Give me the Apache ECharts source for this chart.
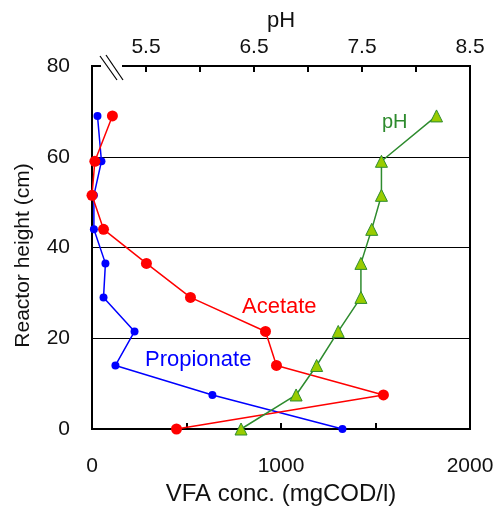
<!DOCTYPE html>
<html>
<head>
<meta charset="utf-8">
<script src="https://cdn.jsdelivr.net/npm/echarts@6/dist/echarts.min.js"></script>
<style>
    html, body { margin: 0; padding: 0; background: #fff; }
    #chart { width: 496px; height: 506px; }
</style>
</head>
<body>
<div id="chart"></div>
<script>
    // reactor heights (cm) of the sampling ports
    var heights = [0, 7.5, 14, 21.5, 29, 36.5, 44, 51.5, 59, 69];
    // VFA conc. (mgCOD/l)
    var acetate = [447, 1542, 976, 918, 521, 288, 61, 0, 15, 108];
    var propionate = [1325, 637, 124, 225, 61, 71, 10, 10, 50, 29];
    // pH (top axis)
    var ph = [6.38, 6.89, 7.08, 7.28, 7.49, 7.49, 7.59, 7.68, 7.68, 8.19];

    var vfaLabels = [0, 1000, 2000];
    var phLabels = [5.5, 6.5, 7.5, 8.5];

    var font = 'Liberation Sans, Arial, sans-serif';

    function pairs(xs, ys) {
        var out = [];
        for (var i = 0; i < xs.length; i++) {
            out.push([xs[i], ys[i]]);
        }
        return out;
    }

    var chart = echarts.init(document.getElementById('chart'), null, {renderer: 'canvas'});

    var option = {
        animation: false,
        backgroundColor: '#fff',
        grid: {
            left: 92,
            right: 26,
            top: 66,
            bottom: 77,
            outerBoundsMode: 'none',
            containLabel: false,
            show: true,
            borderColor: '#000',
            borderWidth: 2
        },
        xAxis: [
            {
                type: 'value',
                position: 'bottom',
                min: 0,
                max: 2000,
                interval: 500,
                name: 'VFA conc. (mgCOD/l)',
                nameLocation: 'middle',
                nameGap: 52,
                nameTextStyle: {fontSize: 24, color: '#111', fontFamily: font},
                axisLine: {show: true, lineStyle: {color: '#000', width: 2}},
                axisTick: {show: true, inside: true, length: 6, lineStyle: {color: '#000', width: 2}},
                splitLine: {show: false},
                axisLabel: {
                    margin: 27,
                    fontSize: 21,
                    color: '#111',
                    fontFamily: font,
                    formatter: function (v) {
                        return vfaLabels.indexOf(v) >= 0 ? String(v) : '';
                    }
                }
            },
            {
                type: 'value',
                position: 'top',
                min: 5,
                max: 8.5,
                interval: 0.5,
                name: 'pH',
                nameLocation: 'middle',
                nameGap: 34,
                nameTextStyle: {fontSize: 22, color: '#111', fontFamily: font},
                axisLine: {show: true, lineStyle: {color: '#000', width: 2}},
                axisTick: {show: true, inside: true, length: 6, lineStyle: {color: '#000', width: 2}},
                splitLine: {show: false},
                axisLabel: {
                    margin: 8,
                    fontSize: 21,
                    color: '#111',
                    fontFamily: font,
                    formatter: function (v) {
                        var r = Math.round(v * 10) / 10;
                        return phLabels.indexOf(r) >= 0 ? r.toFixed(1) : '';
                    }
                }
            }
        ],
        yAxis: {
            type: 'value',
            min: 0,
            max: 80,
            interval: 20,
            name: 'Reactor height (cm)',
            nameLocation: 'middle',
            nameGap: 58,
            nameTextStyle: {fontSize: 21, color: '#111', fontFamily: font, padding: [0, 16, 0, 0]},
            axisLine: {show: true, lineStyle: {color: '#000', width: 2}},
            axisTick: {show: false},
            axisLabel: {margin: 22, fontSize: 21, color: '#111', fontFamily: font, padding: [5, 0, 0, 0]},
            splitLine: {show: true, lineStyle: {color: '#000', width: 1}}
        },
        series: [
            {
                name: 'Propionate',
                type: 'line',
                xAxisIndex: 0,
                data: pairs(propionate, heights),
                symbol: 'circle',
                symbolSize: 8,
                itemStyle: {color: '#0000ff'},
                lineStyle: {color: '#0000ff', width: 1.5},
                z: 3
            },
            {
                name: 'Acetate',
                type: 'line',
                xAxisIndex: 0,
                data: pairs(acetate, heights),
                symbol: 'circle',
                symbolSize: 11,
                itemStyle: {color: '#ff0000'},
                lineStyle: {color: '#ff0000', width: 1.5},
                z: 4
            },
            {
                name: 'pH',
                type: 'line',
                xAxisIndex: 1,
                data: pairs(ph, heights),
                symbol: 'triangle',
                symbolSize: 12,
                itemStyle: {color: '#99cc00', borderColor: '#2e8b2e', borderWidth: 1},
                lineStyle: {color: '#2e8b2e', width: 1.5},
                z: 5
            }
        ],
        graphic: [
            // axis break mark on the pH axis
            {type: 'rect', shape: {x: 101, y: 62, width: 21, height: 8}, style: {fill: '#fff'}, z: 100},
            {type: 'line', shape: {x1: 100, y1: 56, x2: 117, y2: 80}, style: {stroke: '#000', lineWidth: 1.2}, z: 101},
            {type: 'line', shape: {x1: 106, y1: 55, x2: 123, y2: 80}, style: {stroke: '#000', lineWidth: 1.2}, z: 101},
            // series labels
            {type: 'text', x: 382, y: 122, style: {text: 'pH', fill: '#2e8b2e', font: '20px ' + font, verticalAlign: 'middle'}, z: 100},
            {type: 'text', x: 242, y: 307, style: {text: 'Acetate', fill: '#ff0000', font: '22px ' + font, verticalAlign: 'middle'}, z: 100},
            {type: 'text', x: 145, y: 360, style: {text: 'Propionate', fill: '#0000ff', font: '22px ' + font, verticalAlign: 'middle'}, z: 100}
        ]
    };

    chart.setOption(option);
</script>
</body>
</html>
